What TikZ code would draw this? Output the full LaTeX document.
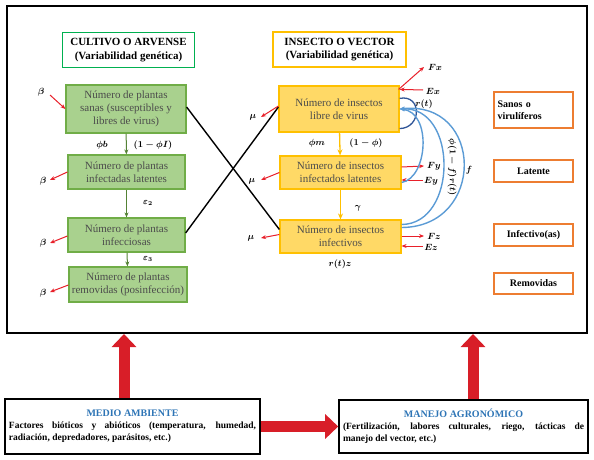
\documentclass[tikz,border=0pt]{standalone}
\usepackage{amsmath}
\usepackage{fontspec}
\setmainfont{Liberation Serif}
\usetikzlibrary{arrows.meta}
\definecolor{gfill}{HTML}{A9D18E}
\definecolor{gdraw}{HTML}{70AD47}
\definecolor{garr}{HTML}{548235}
\definecolor{gtitle}{HTML}{00B050}
\definecolor{yfill}{HTML}{FFD966}
\definecolor{ydraw}{HTML}{FFC000}
\definecolor{odraw}{HTML}{ED7D31}
\definecolor{bdark}{HTML}{2F5597}
\definecolor{blight}{HTML}{5B9BD5}
\definecolor{redarr}{HTML}{E8202A}
\definecolor{bigred}{HTML}{D81E28}
\definecolor{titleblue}{HTML}{2E75B6}
\tikzset{
  x=1pt, y=-1pt,
  boxtxt/.style={font=\fontsize{11}{13}\selectfont, text=black!70, align=center, inner sep=1pt},
  gbox/.style={boxtxt, draw=gdraw, fill=gfill, line width=1.2pt},
  ybox/.style={boxtxt, draw=ydraw, fill=yfill, line width=1.2pt},
  ttl/.style={draw, fill=white, line width=1.2pt, align=center, font=\fontsize{11}{13.5}\selectfont\bfseries, inner sep=1pt},
  obox/.style={draw=odraw, line width=1.2pt, align=left, font=\fontsize{10}{12}\selectfont\bfseries, inner sep=1pt},
  lbl/.style={font=\fontsize{9}{10}\selectfont\bfseries, inner sep=0pt},
  rarr/.style={draw=redarr, line width=1pt, -{Stealth[length=5pt,width=4pt]}},
  garrow/.style={draw=garr, line width=1pt, -{Stealth[length=5pt,width=4pt]}},
  yarrow/.style={draw=ydraw, line width=1.3pt, -{Stealth[length=6pt,width=5pt]}},
  cross/.style={draw=black, line width=1.4pt},
  bcurve/.style={draw=blight, line width=1.4pt, -{Stealth[length=5pt,width=4pt]}},
  bigarrow/.style={draw=bigred, line width=11pt, -{Triangle[length=13pt,width=24pt]}},
  bottombox/.style={draw, line width=1.6pt, fill=white, inner sep=3pt}
}
\begin{document}
\begin{tikzpicture}
\useasboundingbox (0,0) rectangle (594,460);
% outer frame
\node[draw, line width=1.6pt, minimum width=580pt, minimum height=327pt, inner sep=0pt] (frame) at (297,169.5) {};

% green column
\node[ttl, draw=gtitle, minimum width=132pt, minimum height=35pt] (gt) at (128.5,50) {CULTIVO O ARVENSE\\(Variabilidad genética)};
\node[gbox, minimum width=120pt, minimum height=48pt] (G1) at (126,109) {Número de plantas\\sanas (susceptibles y\\libres de virus)};
\node[gbox, minimum width=117pt, minimum height=34pt] (G2) at (126.5,172) {Número de plantas\\infectadas latentes};
\node[gbox, minimum width=117pt, minimum height=34pt] (G3) at (126.5,235) {Número de plantas\\infecciosas};
\node[gbox, minimum width=118pt, minimum height=35pt] (G4) at (128,284.5) {Número de plantas\\removidas (posinfección)};

\draw[garrow] (G1) -- (G2);
\draw[garrow] (G2) -- (G3);
\draw[garrow] (G3) -- (G4);

% yellow column
\node[ttl, draw=ydraw, minimum width=133pt, minimum height=35pt] (yt) at (339.5,49.5) {INSECTO O VECTOR\\(Variabilidad genética)};
\node[ybox, minimum width=120pt, minimum height=46pt] (Y1) at (339,109) {Número de insectos\\libre de virus};
\node[ybox, minimum width=121pt, minimum height=33pt] (Y2) at (340.5,172.5) {Número de insectos\\infectados latentes};
\node[ybox, minimum width=121pt, minimum height=33pt] (Y3) at (340.5,236.5) {Número de insectos\\infectivos};

\draw[yarrow] (Y1) -- (Y2);
\draw[yarrow] (Y2) -- (Y3);

% orange labels
\node[obox, minimum width=79pt, minimum height=36pt, text width=72pt] (O1) at (533.5,110) {Sanos o\\virulíferos};
\node[obox, minimum width=79pt, minimum height=22pt, align=center] (O2) at (533.5,171) {Latente};
\node[obox, minimum width=79pt, minimum height=22pt, align=center] (O3) at (533.5,235) {Infectivo(as)};
\node[obox, minimum width=79pt, minimum height=21pt, align=center] (O4) at (533.5,283.5) {Removidas};

% crossing lines
\draw[cross] ([yshift=2pt]G1.east) -- ([yshift=7pt]Y3.west);
\draw[cross] ([yshift=2pt]G3.east) -- ([yshift=2pt]Y1.west);

% beta arrows
\node[lbl] (b1) at (41,92) {$\boldsymbol{\beta}$};
\coordinate (g1in) at ([yshift=0pt]G1.west);
\draw[rarr] (50,95) -- (g1in);
\node[lbl] (b2) at (43,181) {$\boldsymbol{\beta}$};
\draw[rarr] (G2.west) -- (50,180);
\node[lbl] (b3) at (43,243) {$\boldsymbol{\beta}$};
\draw[rarr] ([yshift=-1pt]G3.west) -- (50,243);
\node[lbl] (b4) at (43,293) {$\boldsymbol{\beta}$};
\draw[rarr] ([yshift=-0.5pt]G4.west) -- (50,292);

% green labels
\node[lbl] (l1) at (102,145) {$\boldsymbol{\phi b}$};
\node[lbl] (l2) at (153,145) {$\boldsymbol{(1-\phi I)}$};
\node[lbl] (l3) at (148,203) {$\boldsymbol{\varepsilon_2}$};
\node[lbl] (l4) at (148,259) {$\boldsymbol{\varepsilon_3}$};

% mu arrows
\node[lbl] (m1) at (253,117) {$\boldsymbol{\mu}$};
\draw[rarr] ([yshift=3pt]Y1.west) -- (261,117);
\node[lbl] (m2) at (252,181) {$\boldsymbol{\mu}$};
\draw[rarr] ([yshift=0pt]Y2.west) -- (261,180);
\node[lbl] (m3) at (251,238) {$\boldsymbol{\mu}$};
\draw[rarr] ([yshift=2pt]Y3.west) -- (261,238);

% yellow labels
\node[lbl] (l5) at (317,143) {$\boldsymbol{\phi m}$};
\node[lbl] (l6) at (366,143) {$\boldsymbol{(1-\phi)}$};
\node[lbl] (l7) at (358,208) {$\boldsymbol{\gamma}$};
\node[lbl] (l8) at (340,264) {$\boldsymbol{r(t)z}$};

% right-side red arrows
\node[lbl] (fx) at (435,67) {$\boldsymbol{Fx}$};
\draw[rarr] ([xshift=-1pt,yshift=-4pt]Y1.north east) -- (424,67);
\node[lbl] (ex) at (433,91) {$\boldsymbol{Ex}$};
\draw[rarr] (423,90) -- ([yshift=-4pt]Y1.north east);
\node[lbl] (fy) at (434,166) {$\boldsymbol{Fy}$};
\draw[rarr] ([yshift=5.5pt]Y2.east) -- (424,166);
\node[lbl] (ey) at (431,181) {$\boldsymbol{Ey}$};
\draw[rarr] (423,180) -- ([yshift=-7.5pt]Y2.east);
\node[lbl] (fz) at (434,236) {$\boldsymbol{Fz}$};
\draw[rarr] ([yshift=0.5pt]Y3.east) -- (424,236);
\node[lbl] (ez) at (431,247) {$\boldsymbol{Ez}$};
\draw[rarr] (423,246) -- ([yshift=-9.5pt]Y3.east);

% blue curves
\draw[draw=bdark, line width=1.3pt] ([yshift=-13pt]Y1.north east) .. controls (422,94) and (422,128) .. ([yshift=4pt]Y1.south east);
\draw[bcurve] ([yshift=-10pt]Y2.east) .. controls (428,178) and (432,112) .. (Y1.east);
\draw[bcurve] ([yshift=12pt]Y3.east) .. controls (458,224) and (458,106) .. (Y1.east);
\draw[bcurve] ([yshift=9pt]Y3.east) .. controls (486,227) and (484,100) .. (Y1.east);

\node[lbl] (rt) at (424,104) {$\boldsymbol{r(t)}$};
\node[lbl, rotate=-90] (phr) at (452,167) {$\boldsymbol{\phi(1-f)r(t)}$};
\node[lbl] (f) at (469,170) {$\boldsymbol{f}$};

% bottom boxes
\node[bottombox, minimum width=255pt, minimum height=55pt, text width=247pt, align=justify] (MA) at (132.5,426.5)
  {\centering{\fontsize{10}{12}\selectfont\bfseries\color{titleblue}MEDIO AMBIENTE}\par
   \fontsize{9.5}{12}\selectfont\bfseries\hyphenpenalty=10000 Factores bióticos y abióticos (temperatura, humedad,\linebreak radiación, depredadores, parásitos, etc.)};
\node[bottombox, minimum width=249pt, minimum height=53pt, text width=241pt, align=justify] (MG) at (463.5,426.5)
  {\centering{\fontsize{10}{12}\selectfont\bfseries\color{titleblue}MANEJO AGRONÓMICO}\par
   \fontsize{9.5}{12}\selectfont\bfseries\hyphenpenalty=10000 (Fertilización, labores culturales, riego, tácticas de\linebreak manejo del vector, etc.)};

\coordinate (fa) at (124,334);
\coordinate (fb) at (473,334);
\draw[bigarrow] (MA.north -| fa) -- (fa);
\draw[bigarrow] (MG.north -| fb) -- (fb);
\draw[bigarrow] (MA.east) -- (MG.west);
\end{tikzpicture}
\end{document}
